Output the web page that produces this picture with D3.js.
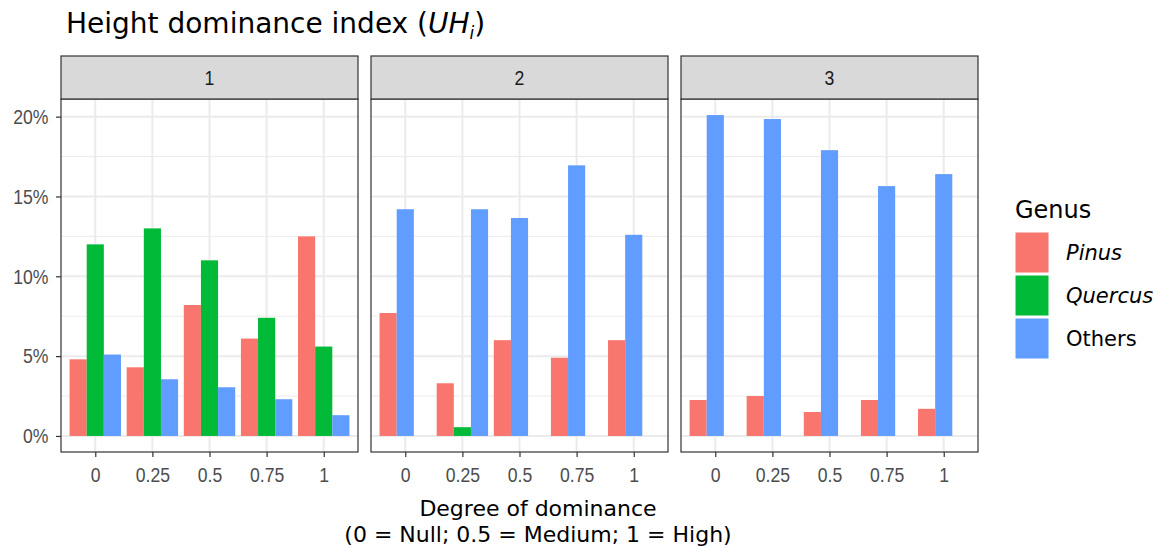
<!DOCTYPE html>
<html>
<head>
<meta charset="utf-8">
<script src="https://cdn.jsdelivr.net/npm/d3@7"></script>
<style>
  body { margin: 0; background: #fff; }
  svg { display: block; }
</style>
</head>
<body>
<div id="chart"></div>
<script>
// data (percent)
const categories = ["0", "0.25", "0.5", "0.75", "1"];
const panels = ["1", "2", "3"];
const genera = ["Pinus", "Quercus", "Others"];
const pinus = [
  [4.8, 4.3, 8.2, 6.1, 12.5],
  [7.7, 3.3, 6.0, 4.9, 6.0],
  [2.25, 2.5, 1.5, 2.25, 1.7]
];
const quercus = [
  [12.0, 13.0, 11.0, 7.4, 5.6],
  [null, 0.55, null, null, null],
  [null, null, null, null, null]
];
const others = [
  [5.1, 3.55, 3.05, 2.3, 1.3],
  [14.2, 14.2, 13.65, 16.95, 12.6],
  [20.1, 19.85, 17.9, 15.65, 16.4]
];
const yTicks = [0, 5, 10, 15, 20];
const yMinor = [2.5, 7.5, 12.5, 17.5];

const W = 1159, H = 548;
const colors = {Pinus: "#F8766D", Quercus: "#00BA38", Others: "#619CFF"};
const series = {Pinus: pinus, Quercus: quercus, Others: others};
const axisFont = "'Liberation Sans', Arial, sans-serif";
const textFont = "'DejaVu Sans', Verdana, sans-serif";
const squeeze = "scale(0.84,1)"; // axis text in the reference is narrow

const svg = d3.select("#chart").append("svg")
  .attr("width", W).attr("height", H);

const panelX = [61, 371, 681];
const panelW = 297;
const stripTop = 56, panelTop = 99, panelBottom = 452;

// y scale with ggplot-like 5% expansion
const maxVal = d3.max(panels.flatMap((p, i) => genera.flatMap(g => series[g][i])));
const pad = maxVal * 0.05;
const y = d3.scaleLinear().domain([-pad, maxVal + pad]).range([panelBottom, panelTop]);

const x = d3.scalePoint().domain(categories).range([0, panelW]).padding(0.6);
const unit = x.step();
const barW = unit * 0.9 / genera.length;

panels.forEach((p, pi) => {
  const g = svg.append("g").attr("transform", `translate(${panelX[pi]},0)`);

  // minor grid
  g.selectAll(".minor").data(yMinor).enter().append("line")
    .attr("x1", 0).attr("x2", panelW)
    .attr("y1", d => y(d)).attr("y2", d => y(d))
    .attr("stroke", "#EBEBEB").attr("stroke-width", 1);
  // major grid
  g.selectAll(".majorY").data(yTicks).enter().append("line")
    .attr("x1", 0).attr("x2", panelW)
    .attr("y1", d => y(d)).attr("y2", d => y(d))
    .attr("stroke", "#EBEBEB").attr("stroke-width", 2);
  g.selectAll(".majorX").data(categories).enter().append("line")
    .attr("x1", d => x(d)).attr("x2", d => x(d))
    .attr("y1", panelTop).attr("y2", panelBottom)
    .attr("stroke", "#EBEBEB").attr("stroke-width", 2);

  // bars: present groups packed left to right (dodge, preserve single)
  const bars = [];
  categories.forEach((c, ci) => {
    let slot = 0;
    genera.forEach(gen => {
      const v = series[gen][pi][ci];
      if (v == null) return;
      bars.push({c: c, v: v, gen: gen, slot: slot});
      slot++;
    });
  });
  g.selectAll(".bar").data(bars).enter().append("rect")
    .attr("x", d => x(d.c) - unit * 0.45 + d.slot * barW)
    .attr("y", d => y(d.v))
    .attr("width", barW)
    .attr("height", d => y(0) - y(d.v))
    .attr("fill", d => colors[d.gen]);

  // panel border
  g.append("rect").attr("x", 0).attr("y", panelTop)
    .attr("width", panelW).attr("height", panelBottom - panelTop)
    .attr("fill", "none").attr("stroke", "#333").attr("stroke-width", 1.2);

  // strip
  g.append("rect").attr("x", 0).attr("y", stripTop)
    .attr("width", panelW).attr("height", panelTop - stripTop)
    .attr("fill", "#D9D9D9").attr("stroke", "#333").attr("stroke-width", 1.2);
  g.append("g").attr("transform", `translate(${panelW / 2},${(stripTop + panelTop) / 2})`)
    .append("text").attr("transform", squeeze)
    .attr("text-anchor", "middle").attr("dominant-baseline", "central")
    .attr("font-family", axisFont)
    .attr("font-size", 21).attr("fill", "#1A1A1A").text(p);

  // x axis
  const xa = g.append("g").attr("transform", `translate(0,${panelBottom})`)
    .call(d3.axisBottom(x).tickSize(5).tickPadding(10));
  xa.select(".domain").remove();
  xa.selectAll(".tick line").attr("stroke", "#333").attr("stroke-width", 1.2);
  xa.selectAll(".tick text").attr("font-family", axisFont)
    .attr("font-size", 21).attr("fill", "#4D4D4D").attr("transform", squeeze);

  if (pi === 0) {
    const ya = g.append("g")
      .call(d3.axisLeft(y).tickValues(yTicks).tickFormat(d => d + "%").tickSize(5).tickPadding(10));
    ya.select(".domain").remove();
    ya.selectAll(".tick line").attr("stroke", "#333").attr("stroke-width", 1.2);
    ya.selectAll(".tick text").attr("font-family", axisFont)
      .attr("font-size", 21).attr("fill", "#4D4D4D").attr("transform", squeeze);
  }
});

// title
const title = svg.append("text").attr("x", 66).attr("y", 33)
  .attr("font-family", textFont)
  .attr("font-size", 28).attr("fill", "#000");
title.append("tspan").text("Height dominance index (");
title.append("tspan").attr("font-style", "italic").text("UH");
title.append("tspan").attr("font-style", "italic").attr("font-size", 17).attr("dy", 6).text("i");
title.append("tspan").attr("dy", -6).text(")");

// x axis title
const xt = svg.append("text").attr("text-anchor", "middle")
  .attr("font-family", textFont)
  .attr("font-size", 22).attr("fill", "#000");
xt.append("tspan").attr("x", 538).attr("y", 516).text("Degree of dominance");
xt.append("tspan").attr("x", 538).attr("y", 542).text("(0 = Null; 0.5 = Medium; 1 = High)");

// legend
const lg = svg.append("g").attr("transform", "translate(1015,0)");
lg.append("text").attr("x", 0).attr("y", 218)
  .attr("font-family", textFont)
  .attr("font-size", 24).attr("fill", "#000").text("Genus");
genera.forEach((gen, i) => {
  const ky = 232 + i * 43;
  lg.append("rect").attr("x", 0).attr("y", ky).attr("width", 34).attr("height", 41)
    .attr("fill", colors[gen]).attr("stroke", "#fff").attr("stroke-width", 1);
  lg.append("text").attr("x", 51).attr("y", ky + 20.5)
    .attr("dominant-baseline", "central")
    .attr("font-family", textFont)
    .attr("font-size", 21).attr("fill", "#000")
    .attr("font-style", gen === "Others" ? "normal" : "italic")
    .text(gen);
});
</script>
</body>
</html>
